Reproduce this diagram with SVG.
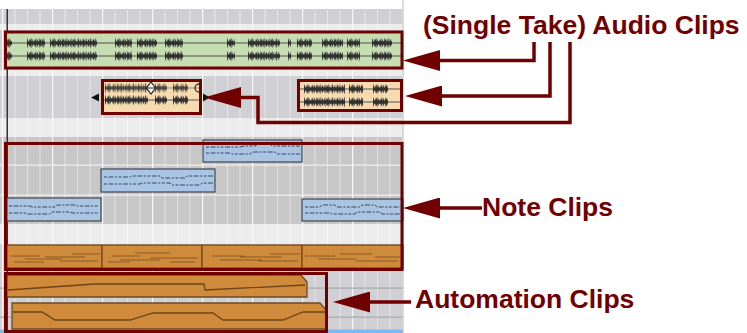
<svg xmlns="http://www.w3.org/2000/svg" width="747" height="333" viewBox="0 0 747 333">
<style>
.lbl{font-family:"Liberation Sans",Arial,sans-serif;font-weight:bold;font-size:26.5px;fill:#700000}
.hl{fill:none;stroke:#700000;stroke-width:3}
.conn{fill:none;stroke:#700000;stroke-width:3.5;marker-end:url(#ah)}
.wvo{fill:none;stroke:#444;stroke-width:9.5;stroke-dasharray:0.6 3.1 0.9 4.3 0.5 2.7;opacity:0.8}
.wvm{fill:none;stroke:#3a3a3a;stroke-width:7;stroke-dasharray:1 1.3 2 0.9 0.7 1.6 1.5 1.1}
.wvc{fill:none;stroke:#303030;stroke-width:3.5}
.cl{stroke:#505050;stroke-width:1.2}
.blue{fill:#a9c5e3;stroke:#4a4f58;stroke-width:1.3}
.note{fill:none;stroke:#3a4658;stroke-width:1;stroke-dasharray:3 1.5 5 1.5 2 1.5}
.org{fill:#cf8a3c;stroke:#6e4a1e;stroke-width:1.3}
.oln{fill:none;stroke:#8a5a25;stroke-width:1.2}
.aln{fill:none;stroke:#6b4418;stroke-width:1.3}
</style>
<defs>
<pattern id="grid" patternUnits="userSpaceOnUse" x="2" y="0" width="50" height="10">
<rect x="0" y="0" width="1.2" height="10" fill="#f7f7f7"/>
<rect x="12.5" y="0" width="1" height="10" fill="#ffffff" opacity="0.45"/>
<rect x="25" y="0" width="1" height="10" fill="#ffffff" opacity="0.45"/>
<rect x="37.5" y="0" width="1" height="10" fill="#ffffff" opacity="0.45"/>
</pattern>
<marker id="ah" markerUnits="userSpaceOnUse" viewBox="0 0 37 21" markerWidth="37" markerHeight="21" refX="1" refY="10.5" orient="auto">
<path d="M0,0 L37,10.5 L0,21 Z" fill="#700000"/>
</marker>
<path id="gw" d="M5,0H12M27,0H45M50,0H97M115,0H132M137,0H157M165,0H183M227,0H235M248,0H280M288,0H291M297,0H312M322,0H343M347,0H360M372,0H392"/>
<path id="tw1" d="M105,0H148M155,0H167M173,0H188"/>
<path id="tw2" d="M304,0H345M349,0H363M373,0H388"/>
</defs>

<g id="panel">
<rect x="0" y="9" width="403" height="324" fill="#d0d0d4"/>
<rect x="0" y="24" width="403" height="6" fill="#ececec"/>
<rect x="0" y="70" width="403" height="6" fill="#ececec"/>
<rect x="0" y="118" width="403" height="19" fill="#ececec"/>
<rect x="0" y="137" width="403" height="87" fill="#c7c7c7"/>
<rect x="0" y="224" width="403" height="20" fill="#ececec"/>
<rect x="0" y="9" width="403" height="322" fill="url(#grid)"/>
<rect x="0" y="164.5" width="403" height="1.2" fill="#f2f2f2"/>
<rect x="0" y="194.5" width="403" height="1.2" fill="#f2f2f2"/>
<rect x="0" y="287.5" width="403" height="1.2" fill="#a8a8ac"/>
<rect x="0" y="316.5" width="403" height="1.2" fill="#a8a8ac"/>
<rect x="0" y="329.5" width="403" height="3.5" fill="#7cb9f0"/>
<rect x="6.5" y="9" width="1.5" height="324" fill="#333"/>
<rect x="402.5" y="0" width="1" height="333" fill="#b8b8b8"/>
</g>

<g id="audio-clip-long">
<rect x="5" y="33" width="397" height="34" fill="#c5ddb1"/>
<line class="cl" x1="5" y1="43" x2="402" y2="43"/>
<line class="cl" x1="5" y1="56" x2="402" y2="56"/>
<use href="#gw" class="wvo" y="43"/>
<use href="#gw" class="wvm" y="43"/>
<use href="#gw" class="wvc" y="43"/>
<use href="#gw" class="wvo" y="56"/>
<use href="#gw" class="wvm" y="56"/>
<use href="#gw" class="wvc" y="56"/>
<rect class="hl" x="5.5" y="32" width="396.5" height="36"/>
</g>

<g id="audio-clip-take">
<polygon points="91,97.5 99,93.5 99,101.5" fill="#111"/>
<polygon points="210,97.5 203,93.5 203,101.5" fill="#111"/>
<rect x="103" y="81" width="97" height="32" fill="#f6dab0"/>
<line class="cl" x1="103" y1="88" x2="199" y2="88" stroke-opacity="0.6"/>
<line class="cl" x1="103" y1="100" x2="199" y2="100"/>
<use href="#tw1" class="wvo" y="88" opacity="0.5"/>
<use href="#tw1" class="wvm" y="88" opacity="0.6"/>
<use href="#tw1" class="wvc" y="88" opacity="0.7"/>
<use href="#tw1" class="wvo" y="100"/>
<use href="#tw1" class="wvm" y="100"/>
<use href="#tw1" class="wvc" y="100"/>
<polygon points="151,82 155.5,88 151,94 146.5,88" fill="#fff" stroke="#222" stroke-width="1.2"/>
<line x1="146.5" y1="88" x2="155.5" y2="88" stroke="#222" stroke-width="1"/>
<path d="M199,84 A4,4 0 0 0 199,92" fill="none" stroke="#333" stroke-width="1.3"/>
<rect class="hl" x="102.5" y="80.5" width="98" height="33"/>
</g>

<g id="audio-clip-right">
<rect x="300" y="81" width="102" height="30" fill="#f6dab0"/>
<line class="cl" x1="300" y1="89" x2="402" y2="89"/>
<line class="cl" x1="300" y1="102" x2="402" y2="102"/>
<use href="#tw2" class="wvo" y="89"/>
<use href="#tw2" class="wvm" y="89"/>
<use href="#tw2" class="wvc" y="89"/>
<use href="#tw2" class="wvo" y="102"/>
<use href="#tw2" class="wvm" y="102"/>
<use href="#tw2" class="wvc" y="102"/>
<rect class="hl" x="298.5" y="80.5" width="103" height="30"/>
</g>

<g id="note-clips">
<rect class="blue" x="203" y="140" width="99" height="22"/>
<path class="note" d="M206,147H240L244,146H255L258,144H270L272,146H300"/>
<path class="note" d="M206,153H230L232,154H250L253,152H275L277,154H300"/>
<rect class="blue" x="101" y="169" width="114" height="23"/>
<path class="note" d="M104,177H130L132,176H160L162,178H185L187,176H213"/>
<path class="note" d="M104,184H140L142,183H170L172,185H200L202,183H213"/>
<rect class="blue" x="7" y="198" width="94" height="23"/>
<path class="note" d="M9,206H30L32,207H55L57,205H75L77,206H99"/>
<path class="note" d="M9,213H25L27,214H50L52,212H70L72,213H99"/>
<rect class="blue" x="302" y="199" width="101" height="22"/>
<path class="note" d="M305,207H320L322,205H335L337,207H360L362,205H375L377,207H400"/>
<path class="note" d="M305,213H330L332,214H355L357,212H380L382,214H400"/>
<rect class="org" x="7" y="245" width="95" height="23"/>
<rect class="org" x="102" y="245" width="100" height="23"/>
<rect class="org" x="202" y="245" width="100" height="23"/>
<rect class="org" x="302" y="245" width="101" height="23"/>
<path class="oln" d="M10,256H40M25,259H62M45,257H85M60,261H98M14,262H44M72,254H100M112,256H140M120,260H160M135,253H170M150,258H198M170,262H195M108,262H130M212,256H245M220,260H262M240,257H282M258,261H298M270,254H300M305,256H335M318,259H356M340,254H372M355,261H398M375,257H400"/>
<rect class="hl" x="5.5" y="143.5" width="396.5" height="126"/>
</g>

<g id="automation-clips">
<path class="org" d="M7,275H301L307,282V297H7Z"/>
<path class="aln" d="M8,290L95,284H204L205,290L305,285"/>
<path class="org" d="M12,303H320L326,310V329H12Z"/>
<path class="aln" d="M13,312H42L55,320H130L153,313H213L223,320H283L303,312H325"/>
<rect class="hl" x="5.5" y="273.5" width="321" height="58"/>
</g>

<g id="label-audio"><text class="lbl" x="423" y="34">(Single Take) Audio Clips</text></g>
<g id="label-note"><text class="lbl" x="482" y="216">Note Clips</text></g>
<g id="label-automation"><text class="lbl" x="415" y="308">Automation Clips</text></g>

<g id="connectors">
<path class="conn" d="M534,42V60.5H439"/>
<path class="conn" d="M550,42V96H441"/>
<path class="conn" d="M570,42V122.5H258V97.5H240"/>
<path class="conn" d="M482,208H439"/>
<path class="conn" d="M411,302H369"/>
</g>
</svg>
